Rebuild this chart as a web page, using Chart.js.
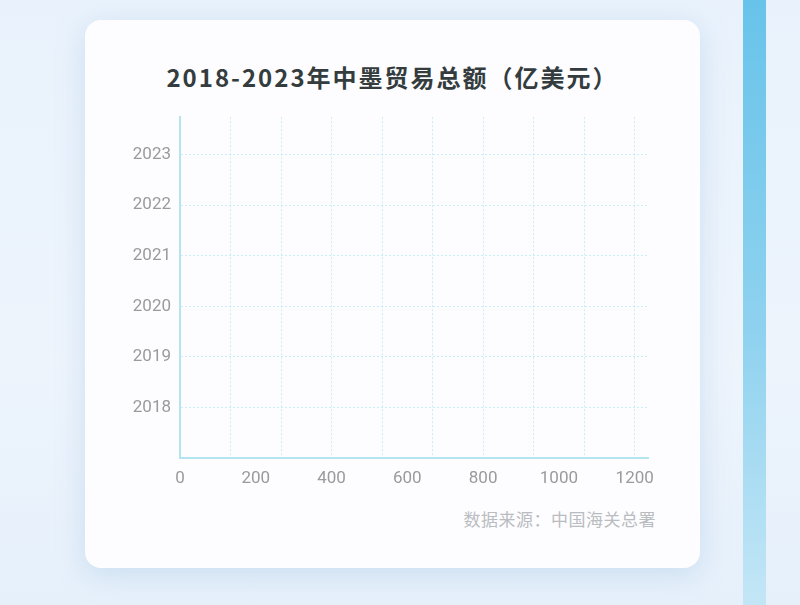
<!DOCTYPE html>
<html lang="zh-CN">
<head>
<meta charset="UTF-8">
<title>2018-2023年中墨贸易总额</title>
<script src="https://cdn.jsdelivr.net/npm/chart.js@4.4.1/dist/chart.umd.min.js"></script>
<style>
    html, body {
        margin: 0;
        padding: 0;
        width: 800px;
        height: 605px;
        overflow: hidden;
        font-family: "Noto Sans CJK SC", "Noto Sans", sans-serif;
    }
    body {
        position: relative;
        background: linear-gradient(180deg, #e9f2fc 0%, #edf4fc 60%, #e6f0fb 100%);
    }
    .stripe {
        position: absolute;
        left: 743px;
        top: 0;
        width: 23px;
        height: 605px;
        background: linear-gradient(180deg, #68c3ea 0%, #8fd2ef 55%, #c3e6f6 100%);
    }
    .card {
        position: absolute;
        left: 85px;
        top: 20px;
        width: 615px;
        height: 548px;
        background: #fdfdff;
        border-radius: 16px;
        box-shadow: 0 6px 28px rgba(150, 185, 220, 0.35);
    }
    .card h2 {
        position: absolute;
        left: 0;
        right: 0;
        top: 39px;
        margin: 0;
        text-align: center;
        font-size: 24px;
        font-weight: 700;
        color: #343c3e;
        letter-spacing: 2px;
    }
    .chart-box {
        position: absolute;
        left: 15px;
        top: 78px;
        width: 565px;
        height: 390px;
    }
    .source {
        position: absolute;
        right: 44px;
        top: 486px;
        font-size: 17px;
        letter-spacing: 0.5px;
        color: #b9bcc0;
    }
</style>
</head>
<body>
<div class="stripe"></div>
<div class="card">
    <h2>2018-2023年中墨贸易总额（亿美元）</h2>
    <div class="chart-box"><canvas id="tradeChart"></canvas></div>
    <div class="source">数据来源：中国海关总署</div>
</div>
<script>
// Years on the vertical axis
const years = ['2018', '2019', '2020', '2021', '2022', '2023'];
// Trade totals (亿美元) - the reference shows no bars drawn
const tradeValues = [null, null, null, null, null, null];
// X axis tick labels
const xTickLabels = [0, 200, 400, 600, 800, 1000, 1200];

const AXIS_COLOR = '#b4e4f0';
const GRID_COLOR = 'rgba(140, 218, 240, 0.45)';
const LABEL_COLOR = '#9a9a9a';
const TICK_FONT = { size: 17, family: 'Roboto, "Noto Sans", sans-serif' };

const labelStep = xTickLabels[1] - xTickLabels[0];
const subStep = labelStep / 3;

const ctx = document.getElementById('tradeChart').getContext('2d');
const chart = new Chart(ctx, {
    type: 'bar',
    data: {
        datasets: [{
            label: '贸易总额',
            data: years.map((y, i) => ({ y: Number(y), x: tradeValues[i] })),
            backgroundColor: '#5bc0e8'
        }]
    },
    options: {
        indexAxis: 'y',
        responsive: true,
        maintainAspectRatio: false,
        animation: false,
        layout: {
            padding: { left: 0, right: 7, top: 11, bottom: 0 }
        },
        plugins: {
            legend: { display: false },
            tooltip: { enabled: false }
        },
        scales: {
            x: {
                type: 'linear',
                min: 0,
                max: 1236,
                offset: false,
                afterFit: (scale) => { scale.height = 30; },
                ticks: {
                    stepSize: subStep,
                    includeBounds: false,
                    autoSkip: false,
                    maxRotation: 0,
                    padding: 11,
                    color: LABEL_COLOR,
                    font: TICK_FONT,
                    callback: function(value) {
                        const v = Math.round(value);
                        return xTickLabels.includes(v) ? String(v) : '';
                    }
                },
                grid: {
                    offset: false,
                    drawTicks: false,
                    color: function(c) {
                        if (!c.tick) return 'transparent';
                        const k = Math.round(c.tick.value / subStep);
                        return k % 2 === 0 ? GRID_COLOR : 'transparent';
                    }
                },
                border: { color: AXIS_COLOR, width: 2, dash: [2, 2] }
            },
            y: {
                type: 'linear',
                min: Number(years[0]) - 1,
                max: Number(years[years.length - 1]) + 0.74,
                offset: false,
                afterFit: (scale) => { scale.width = 80; },
                ticks: {
                    stepSize: 1,
                    includeBounds: false,
                    padding: 9,
                    color: LABEL_COLOR,
                    font: TICK_FONT,
                    callback: function(value) {
                        const s = String(Math.round(value));
                        return years.includes(s) ? s : '';
                    }
                },
                grid: {
                    offset: false,
                    drawTicks: false,
                    color: GRID_COLOR
                },
                border: { color: AXIS_COLOR, width: 2, dash: [2, 2] }
            }
        }
    }
});
</script>
</body>
</html>
